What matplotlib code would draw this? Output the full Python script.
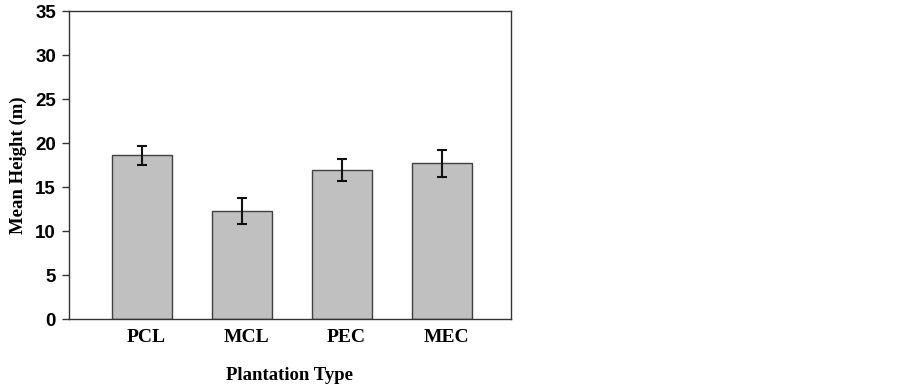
import matplotlib.pyplot as plt
import numpy as np

types = ['PCL', 'MCL', 'PEC', 'MEC']
mean_height = [18.6, 12.25, 16.95, 17.7]
err_height = [1.08, 1.48, 1.25, 1.55]

fig = plt.figure(figsize=(9.02, 3.84), dpi=100)
ax = fig.add_axes([68.5/902, 1 - 319/384, 442.5/902, 308/384])

x = np.arange(len(types))
ax.bar(x, mean_height, width=0.6, color='#c0c0c0', edgecolor='#404040', linewidth=1.0, zorder=2)
ax.errorbar(x, mean_height, yerr=err_height, fmt='none', ecolor='#111111',
            elinewidth=1.5, capsize=3.4, capthick=1.5, zorder=3)

ax.set_xlim(-0.735, 3.69)
ax.set_ylim(0, 35)
ax.set_yticks(range(0, 36, 5))
ax.set_xticks(x + 0.04)
ax.set_xticklabels(types, fontsize=14, fontweight='bold', family='Liberation Serif')
ax.tick_params(axis='x', length=0, pad=7)
ax.tick_params(axis='y', direction='out', length=5, width=1, color='#333333', pad=4)
for lbl in ax.get_yticklabels():
    lbl.set_fontsize(13.5)
    lbl.set_fontweight('bold')
    lbl.set_family('Liberation Sans')

for s in ax.spines.values():
    s.set_color('#333333')
    s.set_linewidth(1.0)

ax.set_xlabel('Plantation Type', fontsize=13.5, fontweight='bold', family='Liberation Serif', labelpad=15)
ax.set_ylabel('Mean Height (m)', fontsize=13.5, fontweight='bold', family='Liberation Serif', labelpad=6)

fig.savefig('out.png', dpi=100)
